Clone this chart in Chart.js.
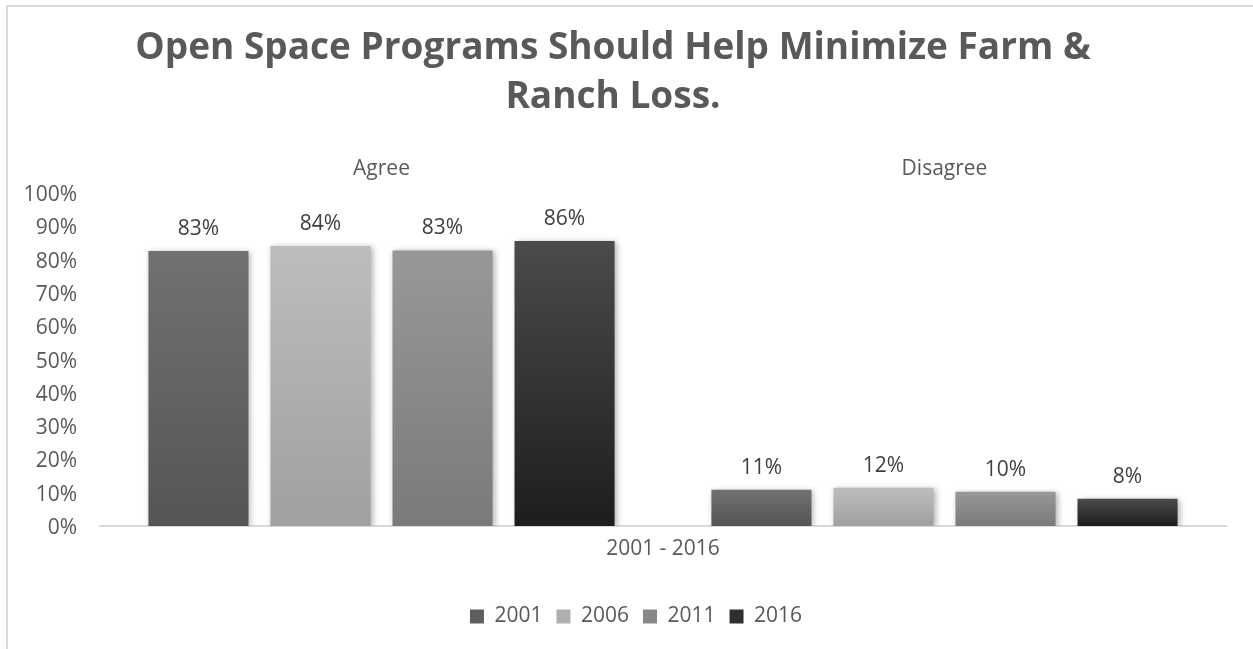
<!DOCTYPE html>
<html>
<head>
<meta charset="utf-8">
<script src="https://cdn.jsdelivr.net/npm/chart.js@4"></script>
<style>
  html, body { margin: 0; padding: 0; background: #ffffff; overflow: hidden; }
  #wrap { position: absolute; left: 0; top: 0; width: 1253px; height: 649px; }
  #frame { position: absolute; left: 6px; top: 5px; width: 1300px; height: 700px; border: 2px solid #d9d9d9; pointer-events: none; }
</style>
</head>
<body>
<div id="wrap"><canvas id="c"></canvas></div>
<div id="frame"></div>
<script>
// ---- data ----
const categories = ['Agree', 'Disagree'];
const seriesNames = ['2001', '2006', '2011', '2016'];
const values2001 = [82.6, 10.9];
const values2006 = [84.1, 11.5];
const values2011 = [82.8, 10.3];
const values2016 = [85.6, 8.2];
const yTicks = [0, 10, 20, 30, 40, 50, 60, 70, 80, 90, 100];
const chartTitle = ['Open Space Programs Should Help Minimize Farm &', 'Ranch Loss.'];
const axisTitle = '2001 - 2016';

// ---- styles ----
const FONT = "'Open Sans', 'Noto Sans', sans-serif";
const TXT = 21;
const gradStops = [
  ['#717171', '#555555'],
  ['#bdbdbd', '#a0a0a0'],
  ['#989898', '#7a7a7a'],
  ['#4b4b4b', '#1d1d1d']
];
const legendColors = ['#5f5f5f', '#afafaf', '#888888', '#303030'];

function barGradient(i) {
  return function (ctx) {
    const chart = ctx.chart;
    if (!chart.chartArea || !chart.scales.y || ctx.raw == null) return legendColors[i];
    const y = chart.scales.y;
    const top = y.getPixelForValue(ctx.raw);
    const bot = y.getPixelForValue(0);
    const g = chart.ctx.createLinearGradient(0, top, 0, bot);
    g.addColorStop(0, gradStops[i][0]);
    g.addColorStop(1, gradStops[i][1]);
    return g;
  };
}

const seriesValues = [values2001, values2006, values2011, values2016];
const datasets = seriesNames.map((name, i) => ({
  label: name,
  data: seriesValues[i],
  backgroundColor: barGradient(i),
  borderWidth: 0,
  categoryPercentage: 0.867,
  barPercentage: 0.82,
  xAxisID: 'x',
  yAxisID: 'y'
}));

const shadowPlugin = {
  id: 'barShadow',
  beforeDatasetsDraw(chart) {
    const c = chart.ctx;
    c.save();
    c.shadowColor = 'rgba(0,0,0,0.30)';
    c.shadowBlur = 6;
    c.shadowOffsetX = 2;
    c.shadowOffsetY = 1;
  },
  afterDatasetsDraw(chart) {
    chart.ctx.restore();
  }
};

const labelPlugin = {
  id: 'valueLabels',
  afterDatasetsDraw(chart) {
    const c = chart.ctx;
    c.save();
    c.font = TXT + 'px ' + FONT;
    c.fillStyle = '#404040';
    c.textAlign = 'center';
    c.textBaseline = 'middle';
    chart.data.datasets.forEach((ds, di) => {
      const meta = chart.getDatasetMeta(di);
      meta.data.forEach((el, idx) => {
        const v = ds.data[idx];
        c.fillText(Math.round(v) + '%', el.x, el.y - 22);
      });
    });
    c.restore();
  }
};

// centre the legend under the plot area rather than the whole canvas
const legendShift = {
  id: 'legendShift',
  afterLayout(chart) {
    if (chart.legend) {
      chart.legend.left += 23;
      chart.legend.right += 23;
    }
  }
};

new Chart(document.getElementById('c'), {
  type: 'bar',
  data: { labels: categories, datasets },
  plugins: [shadowPlugin, labelPlugin, legendShift],
  options: {
    responsive: true,
    maintainAspectRatio: false,
    animation: false,
    layout: { padding: { left: 0, right: 27, top: 0, bottom: 12 } },
    plugins: {
      title: {
        display: true,
        text: chartTitle,
        color: '#595959',
        font: { family: FONT, size: 37, weight: 'bold', lineHeight: 1.32 },
        padding: { top: 24, bottom: 0 }
      },
      legend: {
        display: true,
        position: 'bottom',
        labels: {
          color: '#595959',
          font: { family: FONT, size: TXT },
          boxWidth: 14,
          boxHeight: 14,
          padding: 14,
          generateLabels(chart) {
            return chart.data.datasets.map((ds, i) => ({
              text: ds.label,
              fillStyle: legendColors[i],
              strokeStyle: legendColors[i],
              lineWidth: 0,
              hidden: false,
              datasetIndex: i,
              fontColor: '#595959'
            }));
          }
        }
      },
      tooltip: { enabled: false }
    },
    scales: {
      x: {
        type: 'category',
        position: 'top',
        offset: true,
        grid: { display: false, drawTicks: false },
        border: { display: false },
        ticks: { color: '#595959', font: { family: FONT, size: TXT }, padding: 12 },
        afterFit(s) { s.height = 71.5; }
      },
      x2: {
        type: 'category',
        position: 'bottom',
        labels: categories,
        offset: true,
        grid: { display: false, drawTicks: false },
        border: { display: true, color: '#d9d9d9', width: 2 },
        ticks: { display: false },
        title: {
          display: true,
          text: axisTitle,
          color: '#595959',
          font: { family: FONT, size: TXT },
          padding: { top: 0, bottom: 30 }
        },
        afterFit(s) { s.height = 66; }
      },
      y: {
        min: 0,
        max: 100,
        afterBuildTicks(s) { s.ticks = yTicks.map(v => ({ value: v })); },
        grid: { display: false, drawTicks: false },
        border: { display: false },
        ticks: {
          color: '#595959',
          font: { family: FONT, size: TXT },
          padding: 23,
          labelOffset: 2,
          callback: v => v + '%'
        },
        afterFit(s) { s.width = 100; }
      }
    }
  }
});
</script>
</body>
</html>
